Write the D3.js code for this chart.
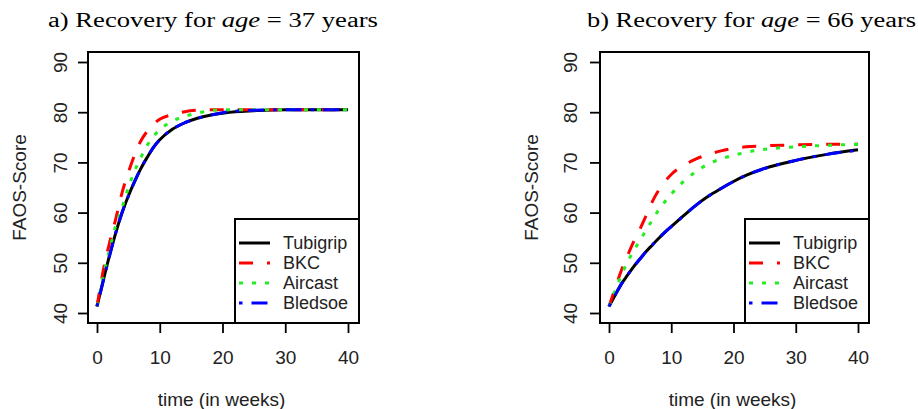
<!DOCTYPE html>
<html>
<head>
<meta charset="utf-8">
<script src="https://cdn.jsdelivr.net/npm/d3@7/dist/d3.min.js"></script>
<style>
  body { margin: 0; background: #fff; }
  text { font-family: "Liberation Sans", Arial, sans-serif; }
</style>
</head>
<body>
<script>
// time grid (weeks) the curves were read at
const weeks = [0, 1, 2, 3, 4, 5, 6, 7, 8, 9, 10, 12, 14, 16, 18, 20, 22, 25, 30, 35, 40];
const treatments = ["Tubigrip", "BKC", "Aircast", "Bledsoe"];
const xTicks = [0, 10, 20, 30, 40];
const yTicks = [40, 50, 60, 70, 80, 90];

// panel a) age = 37
const tubigrip37 = [41.3, 46.5, 51.5, 56, 60, 63.3, 66.2, 68.8, 71, 73, 74.5, 76.6, 77.9, 78.8, 79.4, 79.8, 80.1, 80.3, 80.5, 80.5, 80.5];
const bkc37      = [41.3, 48.5, 54, 58.8, 64, 68, 71.5, 74.3, 76.2, 77.6, 78.6, 79.5, 80.1, 80.4, 80.5, 80.5, 80.5, 80.5, 80.5, 80.5, 80.5];
const aircast37  = [41.3, 47.3, 52.6, 57.5, 61, 65, 68.3, 71, 73.4, 75.2, 76.5, 78.2, 79.2, 79.8, 80.3, 80.5, 80.5, 80.5, 80.5, 80.5, 80.5];
const bledsoe37  = [41.3, 46.4, 51.4, 56, 60, 63.3, 66.2, 68.8, 71, 73, 74.5, 76.6, 77.9, 78.8, 79.4, 79.9, 80.2, 80.4, 80.5, 80.5, 80.5];

// panel b) age = 66
const tubigrip66 = [41.3, 43.6, 45.8, 47.6, 49.3, 50.8, 52.3, 53.6, 54.9, 56.1, 57.2, 59.4, 61.5, 63.3, 64.8, 66.2, 67.4, 68.8, 70.4, 71.6, 72.5];
const bkc66      = [41.3, 45, 48.5, 51.5, 54.3, 56.8, 59.5, 62.3, 64.5, 66.2, 67.6, 69.4, 70.7, 71.6, 72.3, 72.8, 73.1, 73.3, 73.5, 73.6, 73.6];
const aircast66  = [41.3, 44.5, 47.6, 50.2, 52.5, 54.5, 56.6, 58.6, 60.6, 62.2, 63.7, 66.2, 68.2, 69.7, 70.7, 71.4, 72, 72.6, 73.1, 73.4, 73.6];
const bledsoe66  = [41.3, 43.6, 45.8, 47.6, 49.3, 50.8, 52.3, 53.6, 54.9, 56.1, 57.2, 59.4, 61.5, 63.3, 64.8, 66.2, 67.4, 68.8, 70.4, 71.6, 72.4];

const colors = ["#000000", "#ff0000", "#22ee22", "#0000ff"];
const dashes = [null, "14,14", "4,9", "3.5,9,16,9"];

const svg = d3.select("body").append("svg")
    .attr("width", 918)
    .attr("height", 409);

const panels = [
  {label: "a) Recovery for ", age: "37", titleX: 48, titleW: 330,
   boxL: 88, boxR: 359, x0: 97, x40: 348, legL: 235, yLab: 60, yTitle: 19,
   series: [tubigrip37, bkc37, aircast37, bledsoe37]},
  {label: "b) Recovery for ", age: "66", titleX: 587, titleW: 329,
   boxL: 600, boxR: 869, x0: 609, x40: 858, legL: 745, yLab: 570, yTitle: 531,
   series: [tubigrip66, bkc66, aircast66, bledsoe66]}
];

const boxT = 52, boxB = 323;

panels.forEach(drawPanel);

function drawPanel(p, pi) {
  const x = d3.scaleLinear().domain([0, 40]).range([p.x0, p.x40]);
  const y = d3.scaleLinear().domain([40, 90]).range([313, 62]);
  const g = svg.append("g");

  // title (LaTeX-ish)
  const t = g.append("text")
      .attr("x", p.titleX).attr("y", 27)
      .style("font-family", "'Liberation Serif', 'DejaVu Serif', serif")
      .style("font-size", "20px")
      .attr("textLength", p.titleW)
      .attr("lengthAdjust", "spacingAndGlyphs");
  t.append("tspan").text(p.label);
  t.append("tspan").style("font-style", "italic").text("age");
  t.append("tspan").text(" = " + p.age + " years");

  // curves
  const clipId = "clip" + pi;
  g.append("clipPath").attr("id", clipId).append("rect")
      .attr("x", p.boxL).attr("y", boxT).attr("width", p.boxR - p.boxL).attr("height", boxB - boxT);

  const line = d3.line()
      .x((d, i) => x(weeks[i]))
      .y(d => y(d))
      .curve(d3.curveMonotoneX);

  g.append("g").attr("clip-path", `url(#${clipId})`)
    .selectAll("path")
    .data(p.series)
    .join("path")
      .attr("d", line)
      .attr("fill", "none")
      .attr("stroke", (d, i) => colors[i])
      .attr("stroke-width", 3)
      .attr("stroke-dasharray", (d, i) => dashes[i]);

  // axes
  const xa = g.append("g")
      .attr("transform", `translate(0,${boxB})`)
      .call(d3.axisBottom(x).tickValues(xTicks).tickSize(10).tickSizeOuter(0).tickPadding(18));
  const ya = g.append("g")
      .attr("transform", `translate(${p.boxL},0)`)
      .call(d3.axisLeft(y).tickValues(yTicks).tickSize(10).tickSizeOuter(0));
  [xa, ya].forEach(a => {
    a.selectAll("line").attr("stroke", "#000").attr("stroke-width", 1.8);
    a.select(".domain").remove();
    a.selectAll("text").attr("fill", "#222").style("font-size", "19px");
  });
  ya.selectAll("text")
      .attr("transform", "rotate(-90)")
      .attr("x", 0)
      .attr("y", -(p.boxL - p.yLab))
      .attr("dy", null)
      .attr("dominant-baseline", "central")
      .attr("text-anchor", "middle");

  // box
  g.append("rect")
      .attr("x", p.boxL).attr("y", boxT)
      .attr("width", p.boxR - p.boxL).attr("height", boxB - boxT)
      .attr("fill", "none").attr("stroke", "#000").attr("stroke-width", 2);

  // axis titles
  g.append("text")
      .attr("x", (p.boxL + p.boxR) / 2 - 2).attr("y", 399)
      .attr("text-anchor", "middle").attr("dominant-baseline", "central")
      .attr("fill", "#222").style("font-size", "19px")
      .text("time (in weeks)");
  g.append("text")
      .attr("transform", `translate(${p.yTitle},${(boxT + boxB) / 2}) rotate(-90)`)
      .attr("text-anchor", "middle").attr("dominant-baseline", "central")
      .attr("fill", "#222").style("font-size", "19px")
      .text("FAOS-Score");

  // legend
  const leg = g.append("g");
  leg.append("rect")
      .attr("x", p.legL).attr("y", 219)
      .attr("width", p.boxR - p.legL).attr("height", boxB - 219)
      .attr("fill", "#fff").attr("stroke", "#000").attr("stroke-width", 2);
  const rows = leg.selectAll("g.row")
    .data(treatments)
    .join("g")
      .attr("class", "row")
      .attr("transform", (d, i) => `translate(${p.legL},${243 + i * 20})`);
  rows.append("line")
      .attr("x1", 4).attr("x2", 35)
      .attr("stroke", (d, i) => colors[i])
      .attr("stroke-width", 3)
      .attr("stroke-dasharray", (d, i) => dashes[i]);
  rows.append("text")
      .attr("x", 48)
      .attr("dominant-baseline", "central")
      .attr("fill", "#222").style("font-size", "18px")
      .text(d => d);
}
</script>
</body>
</html>
